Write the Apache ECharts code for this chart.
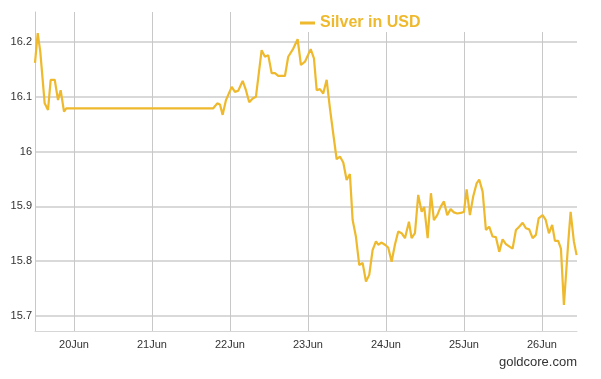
<!DOCTYPE html>
<html>
<head>
<meta charset="utf-8">
<script src="https://cdn.jsdelivr.net/npm/echarts@6/dist/echarts.min.js"></script>
<style>html,body{margin:0;padding:0;background:#fff;}#c{width:601px;height:379px;}</style>
</head>
<body>
<div id="c"></div>
<script>
// x = day of June (fractional), y = silver price in USD
var days = [19.5,19.535,19.568,19.624,19.667,19.701,19.753,19.795,19.829,19.872,19.901,
  21.786,21.837,21.872,21.906,21.949,22.022,22.064,22.106,22.163,22.205,22.247,22.291,22.333,
  22.406,22.449,22.491,22.535,22.577,22.619,22.705,22.747,22.812,22.868,22.910,22.962,23.035,
  23.077,23.112,23.154,23.196,23.240,23.282,23.324,23.368,23.410,23.453,23.496,23.538,23.573,
  23.615,23.658,23.701,23.744,23.786,23.829,23.872,23.901,23.945,23.987,24.029,24.073,24.115,
  24.158,24.201,24.244,24.295,24.329,24.372,24.414,24.458,24.491,24.535,24.577,24.615,24.658,
  24.701,24.744,24.786,24.829,24.872,24.914,24.958,25.0,25.035,25.077,25.119,25.163,25.196,
  25.240,25.282,25.324,25.368,25.410,25.453,25.496,25.538,25.590,25.624,25.667,25.709,25.753,
  25.795,25.837,25.881,25.923,25.958,26.009,26.047,26.090,26.132,26.167,26.209,26.244,26.282,
  26.337,26.368,26.410,26.445];
var prices = [16.162,16.216,16.182,16.088,16.076,16.131,16.131,16.094,16.112,16.073,16.079,
  16.079,16.088,16.086,16.067,16.094,16.118,16.109,16.111,16.129,16.112,16.090,16.097,16.100,
  16.185,16.173,16.176,16.143,16.143,16.138,16.138,16.173,16.188,16.205,16.158,16.164,16.187,
  16.170,16.112,16.114,16.106,16.131,16.079,16.033,15.986,15.991,15.980,15.948,15.959,15.875,
  15.845,15.793,15.797,15.763,15.775,15.820,15.836,15.830,15.834,15.830,15.825,15.799,15.830,
  15.854,15.851,15.842,15.872,15.842,15.851,15.921,15.890,15.899,15.842,15.924,15.875,15.884,
  15.899,15.909,15.884,15.895,15.889,15.887,15.888,15.890,15.931,15.884,15.918,15.942,15.949,
  15.927,15.857,15.863,15.845,15.844,15.817,15.840,15.831,15.826,15.823,15.857,15.863,15.870,
  15.860,15.858,15.842,15.848,15.878,15.884,15.876,15.851,15.866,15.837,15.837,15.823,15.720,
  15.833,15.890,15.836,15.811];
var xTicks = [20,21,22,23,24,25,26];
var yTicks = [15.7,15.8,15.9,16,16.1,16.2];
var seriesName = 'Silver in USD';
var sourceText = 'goldcore.com';

var gold = '#EEB92C';
var font = 'Liberation Sans';
var chart = echarts.init(document.getElementById('c'), null, {renderer:'canvas'});
chart.setOption({
  animation: false,
  backgroundColor: '#fff',
  grid: {left: 35, right: 24, top: 12, bottom: 48, containLabel: false},
  legend: {
    data: [{name: seriesName, icon: 'rect'}],
    left: 300, top: 15, padding: 0,
    itemWidth: 15, itemHeight: 3,
    z: 101,
    textStyle: {color: gold, fontWeight: 'bold', fontSize: 16, fontFamily: font}
  },
  xAxis: {
    type: 'value', min: 19.5, max: 26.45,
    axisLine: {show: true, lineStyle: {color: '#d6d6d6', width: 1}},
    axisTick: {show: false, customValues: xTicks},
    axisLabel: {customValues: xTicks, formatter: function(v){return v + 'Jun';},
      color: '#333', fontSize: 11, fontFamily: font, margin: 8},
    splitLine: {show: true, lineStyle: {color: '#c8c8c8', width: 1}}
  },
  yAxis: {
    type: 'value', min: 15.6726, max: 16.2547,
    axisLine: {show: true, lineStyle: {color: '#c8c8c8', width: 1}},
    axisTick: {show: false, customValues: yTicks},
    axisLabel: {customValues: yTicks, formatter: function(v){return String(v);},
      color: '#333', fontSize: 11, fontFamily: font, margin: 3},
    splitLine: {show: true, lineStyle: {color: '#d9d9d9', width: 2}}
  },
  graphic: [
    {type: 'rect', shape: {x: 290, y: 8, width: 300, height: 24}, style: {fill: '#fff'}, z: 100},
    {type: 'text', right: 24, top: 356, z: 100,
      style: {text: sourceText, fill: '#333', font: '13px "Liberation Sans"'}}
  ],
  series: [{
    name: seriesName, type: 'line', showSymbol: false, symbol: 'none',
    lineStyle: {color: gold, width: 2.2}, itemStyle: {color: gold},
    data: days.map(function(d, i){return [d, prices[i]];})
  }]
});
</script>
</body>
</html>
